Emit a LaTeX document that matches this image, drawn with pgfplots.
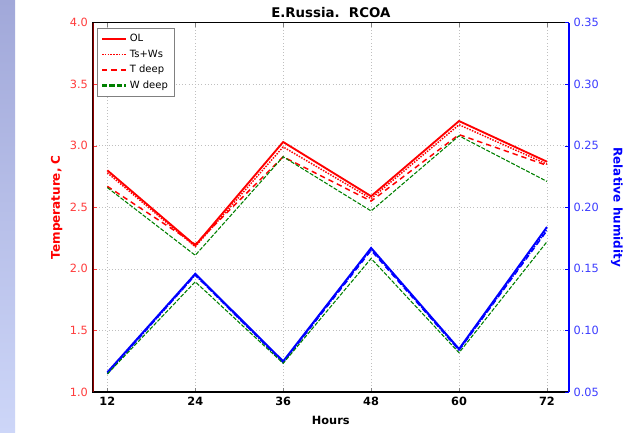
\documentclass[border=0pt]{standalone}
\usepackage{pgfplots}
\pgfplotsset{compat=1.18}
\usepackage{fontspec}
\setmainfont{DejaVu Sans}
\definecolor{mred}{RGB}{255,0,0}
\definecolor{tickred}{RGB}{255,60,60}
\definecolor{tickblue}{RGB}{60,60,255}
\definecolor{spinered}{RGB}{140,0,0}
\definecolor{mgreen}{RGB}{0,128,0}
\definecolor{mblue}{RGB}{0,0,255}
\definecolor{stripetop}{RGB}{161,168,217}
\definecolor{stripebot}{RGB}{205,214,248}
\begin{document}
\begin{tikzpicture}
\fill[white] (0,0) rectangle (467.25pt,324pt);
\shade[top color=stripetop, bottom color=stripebot] (0,0) rectangle (11.25pt,324pt);
\path[use as bounding box] (0,0) rectangle (467.25pt,324pt);
\begin{axis}[
  at={(69.5pt,30pt)}, anchor=south west, scale only axis,
  width=357.2pt, height=277.1pt,
  xmin=10, xmax=75, ymin=1, ymax=4,
  xtick={12,24,36,48,60,72},
  ytick={1,1.5,2,2.5,3,3.5,4},
  ytick pos=left,
  tick align=inside, major tick length=3pt,
  /pgf/number format/assume math mode=true,
  tick label style={font=\fontsize{8.5}{10}\selectfont},
  xticklabel style={font=\bfseries\fontsize{8.5}{10}\selectfont},
  yticklabel style={/pgf/number format/fixed, /pgf/number format/fixed zerofill, /pgf/number format/precision=1, color=tickred},
  y tick style={color=tickred},
  grid=major, grid style={dotted, gray!50, line width=0.5pt},
  axis line style={black, line width=0.8pt},
  title={E.Russia.\ \ RCOA},
  title style={font=\bfseries\fontsize{10}{12}\selectfont, yshift=-6pt},
  xlabel={Hours},
  xlabel style={font=\bfseries\fontsize{8.5}{10}\selectfont, at={(axis description cs:0.5,-0.076)}, anchor=center},
  ylabel={Temperature, C},
  ylabel style={font=\bfseries\fontsize{9}{10}\selectfont, color=mred, at={(axis description cs:-0.0756,0.5)}, anchor=center},
  legend style={at={(rel axis cs:0.01,0.985)}, anchor=north west, font=\fontsize{7.5}{9}\selectfont, draw=gray, inner sep=2.5pt, row sep=0.5pt},
  legend cell align=left,
]
\addplot[mred, line width=1.4pt, forget plot] coordinates {(12,2.80)(24,2.19)(36,3.03)(48,2.59)(60,3.20)(72,2.87)};
\addplot[mred, line width=1.1pt, densely dotted, forget plot] coordinates {(12,2.78)(24,2.18)(36,2.99)(48,2.57)(60,3.17)(72,2.85)};
\addplot[mred, line width=1.1pt, dash pattern=on 4pt off 3pt, forget plot] coordinates {(12,2.67)(24,2.20)(36,2.91)(48,2.55)(60,3.09)(72,2.84)};
\addplot[mgreen, line width=0.8pt, dash pattern=on 3pt off 1.2pt, forget plot] coordinates {(12,2.66)(24,2.11)(36,2.91)(48,2.47)(60,3.08)(72,2.71)};
\addlegendimage{legend image code/.code={\draw[draw=mred, line width=1.1pt] (0pt,0pt) -- (18pt,0pt);}}
\addlegendentry{OL}
\addlegendimage{legend image code/.code={\draw[draw=mred, line width=1.1pt, densely dotted] (0pt,0pt) -- (18pt,0pt);}}
\addlegendentry{Ts+Ws}
\addlegendimage{legend image code/.code={\draw[draw=mred, line width=1.1pt, dash pattern=on 4pt off 3pt] (0pt,0pt) -- (18pt,0pt);}}
\addlegendentry{T deep}
\addlegendimage{legend image code/.code={\draw[draw=mgreen, line width=1.6pt, dash pattern=on 4pt off 1.5pt] (0pt,0pt) -- (18pt,0pt);}}
\addlegendentry{W deep}
\draw[spinered, line width=1.5pt] (rel axis cs:0,0) -- (rel axis cs:0,1);
\end{axis}
\begin{axis}[
  at={(69.5pt,30pt)}, anchor=south west, scale only axis,
  width=357.2pt, height=277.1pt,
  xmin=10, xmax=75, ymin=0.05, ymax=0.35,
  axis x line=none, axis y line*=right,
  ytick={0.05,0.1,0.15,0.2,0.25,0.3,0.35},
  tick align=inside, major tick length=3pt,
  /pgf/number format/assume math mode=true,
  yticklabel style={font=\fontsize{8.5}{10}\selectfont, /pgf/number format/fixed, /pgf/number format/fixed zerofill, /pgf/number format/precision=2, color=tickblue},
  y tick style={color=mblue},
  y axis line style={mblue, line width=1.5pt, -},
  ylabel={Relative humidity},
  ylabel style={font=\bfseries\fontsize{9}{10}\selectfont, color=mblue, at={(axis description cs:1.1008,0.5)}, anchor=center, rotate=180},
]
\addplot[mblue, line width=1.4pt] coordinates {(12,0.066)(24,0.146)(36,0.075)(48,0.167)(60,0.085)(72,0.184)};
\addplot[mblue, line width=1.1pt, densely dotted] coordinates {(12,0.065)(24,0.145)(36,0.074)(48,0.166)(60,0.084)(72,0.182)};
\addplot[mblue, line width=1.1pt, dash pattern=on 4pt off 3pt] coordinates {(12,0.065)(24,0.145)(36,0.074)(48,0.165)(60,0.084)(72,0.181)};
\addplot[mgreen, line width=0.8pt, dash pattern=on 3pt off 1.2pt] coordinates {(12,0.0646)(24,0.1395)(36,0.0733)(48,0.1584)(60,0.0819)(72,0.172)};
\end{axis}
\end{tikzpicture}
\end{document}
